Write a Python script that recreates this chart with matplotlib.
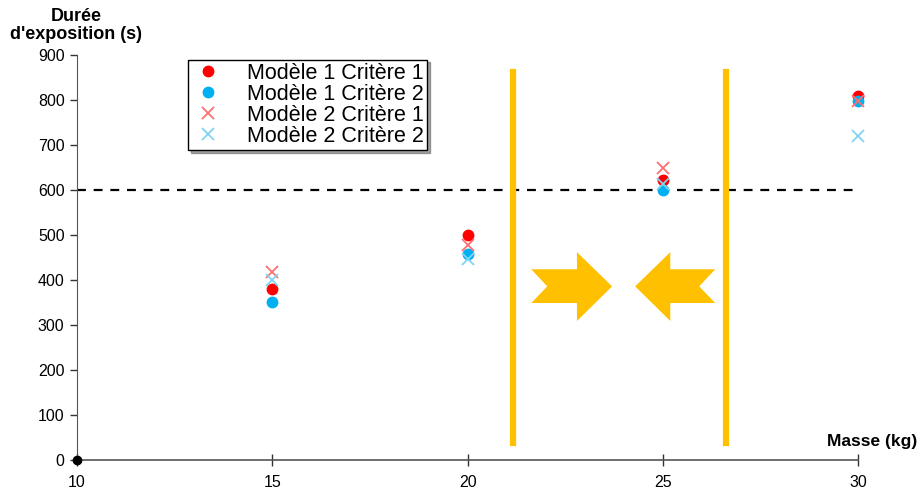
import matplotlib.pyplot as plt
from matplotlib.patches import Polygon

# masses (kg)
masse = [15, 20, 25, 30]
# durees d'exposition (s)
m1_c1 = [381, 500, 622, 810]
m1_c2 = [351, 459, 601, 799]
m2_c1 = [418, 478, 650, 797]
m2_c2 = [401, 446, 614, 720]
seuil = 600
bornes = [21.17, 26.62]

plt.rcParams['font.family'] = ['Liberation Sans', 'DejaVu Sans']

fig = plt.figure(figsize=(9.19, 4.92), dpi=100)
ax = fig.add_axes([0.0838, 0.065, 0.85, 0.823])

ax.plot([10, 29.9], [seuil, seuil], '--', color='black', lw=1.6, dashes=(4, 3.5), zorder=1)

ax.plot(masse, m1_c1, 'o', color='#ff0000', ms=7.5, label='Modèle 1 Critère 1', zorder=3, clip_on=False)
ax.plot(masse, m1_c2, 'o', color='#00b0f0', ms=7.5, label='Modèle 1 Critère 2', zorder=3, clip_on=False)
ax.plot(masse, m2_c1, 'x', color='#ff6f6f', ms=9, mew=1.3, label='Modèle 2 Critère 1', zorder=4, clip_on=False)
ax.plot(masse, m2_c2, 'x', color='#7fd4f4', ms=9, mew=1.3, label='Modèle 2 Critère 2', zorder=4, clip_on=False)

# zone entre les deux bornes
for b in bornes:
    ax.plot([b, b], [38, 862], color='#ffc000', lw=4.5, zorder=2)

orange = '#ffc000'
fleche_d = [(21.63, 424), (22.80, 424), (22.80, 462), (23.70, 386), (22.80, 309),
            (22.80, 349), (21.63, 349), (22.04, 386)]
fleche_g = [(26.34, 424), (25.19, 424), (25.19, 462), (24.29, 386), (25.19, 309),
            (25.19, 349), (26.34, 349), (25.93, 386)]
ax.add_patch(Polygon(fleche_d, closed=True, color=orange, lw=0, zorder=2))
ax.add_patch(Polygon(fleche_g, closed=True, color=orange, lw=0, zorder=2))

ax.plot([10], [0], 'o', color='black', ms=6, clip_on=False, zorder=5)

ax.set_xlim(10, 30)
ax.set_ylim(0, 900)
ax.set_xticks([10, 15, 20, 25, 30])
ax.set_yticks(range(0, 901, 100))
ax.spines['top'].set_visible(False)
ax.spines['right'].set_visible(False)
ax.spines['bottom'].set_color('#555555')
ax.spines['left'].set_color('#555555')
ax.spines['bottom'].set_linewidth(1.2)
ax.tick_params(axis='x', direction='inout', length=9, width=1, color='#333333',
               labelsize=11.5, pad=6)
ax.tick_params(axis='y', direction='out', length=5, width=1, color='#333333',
               labelsize=11.5, pad=4)

fig.text(0.083, 0.912, "Durée\nd'exposition (s)", ha='center', va='bottom',
         fontsize=13, fontweight='bold', linespacing=1.1)
ax.text(1.076, 0.027, 'Masse (kg)', transform=ax.transAxes, ha='right', va='bottom',
        fontsize=12.5, fontweight='bold')

leg = ax.legend(loc='upper left', bbox_to_anchor=(0.134, 1.005), fontsize=15.5,
                frameon=True, fancybox=False, shadow=True, edgecolor='black',
                handletextpad=1.1, borderpad=0.15, labelspacing=0.0, handlelength=1.5,
                borderaxespad=0.3)
leg.get_frame().set_linewidth(1.0)

fig.savefig('out.png', dpi=100)
